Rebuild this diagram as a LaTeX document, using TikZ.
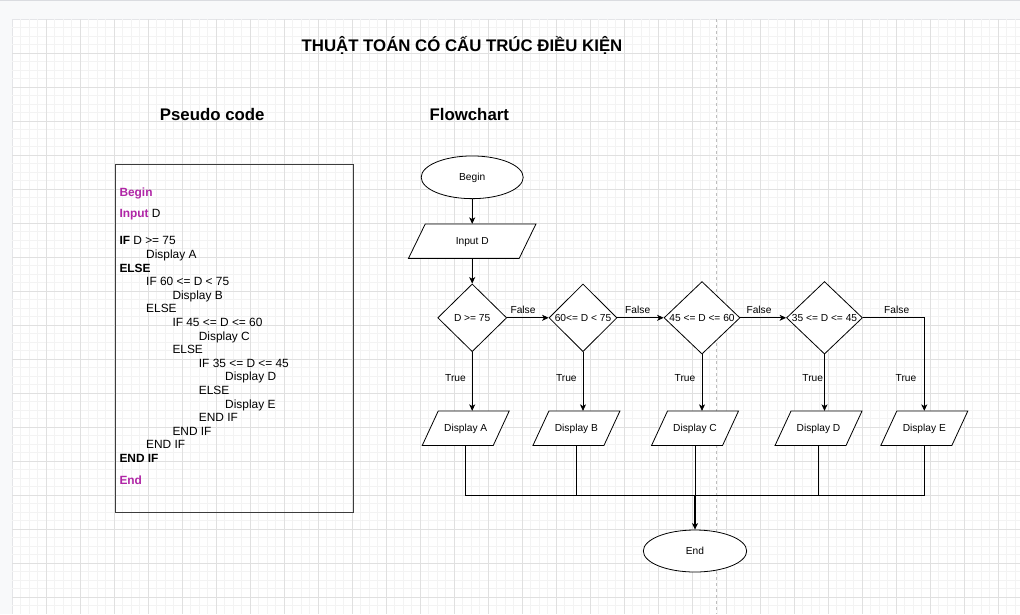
\documentclass[tikz,border=0pt]{standalone}
\usepackage{fontspec}
\setmainfont{Liberation Sans}
\usetikzlibrary{shapes.geometric,arrows.meta}
\definecolor{kw}{RGB}{176,38,166}
\definecolor{gmin}{RGB}{243,243,243}
\definecolor{gmaj}{RGB}{224,224,224}
\definecolor{outside}{RGB}{248,249,250}
\definecolor{pbreak}{RGB}{190,190,190}
\newcommand\paral[7]{% name, cx, cy, w, h, slant, text
  \filldraw[shapeline, fill=white]
    ({#2-#4/2+#6},{#3-#5/2}) -- ({#2+#4/2},{#3-#5/2}) --
    ({#2+#4/2-#6},{#3+#5/2}) -- ({#2-#4/2},{#3+#5/2}) -- cycle;
  \node[lbl, minimum width=#4, minimum height=#5] (#1) at (#2,#3) {#7};}
\newcommand\codeline[3]{\node[code] at (#1,#2) {#3};}
\begin{document}
\begin{tikzpicture}[x=1pt,y=-1pt,
  shapeline/.style={draw=black, line width=0.8pt},
  lbl/.style={font=\fontsize{10.2}{12}\selectfont, inner sep=0pt, text height=7.3pt, text depth=0pt},
  term/.style={ellipse, shapeline, fill=white, inner sep=0pt, lbl},
  dia/.style={diamond, shapeline, fill=white, inner sep=0pt, lbl, minimum height=67.7pt},
  line/.style={draw=black, line width=0.8pt},
  flow/.style={line, -{Stealth[length=6.5pt,width=6pt,inset=1.8pt]}},
  code/.style={anchor=west, inner sep=0pt, font=\fontsize{11.9}{13.6}\selectfont, text height=8.5pt, text depth=0pt},
  head/.style={font=\fontsize{16.8}{20}\selectfont\bfseries, inner sep=0pt, text height=12pt, text depth=0pt}]
\useasboundingbox (0,0) rectangle (1020,614);
% canvas
\fill[outside] (0,0) rectangle (1020,614);
\draw[color={rgb,255:red,218;green,220;blue,224}, line width=1.2pt] (0,0.6) -- (1020,0.6);
\fill[white] (12.3,19.3) rectangle (1020,614);
\draw[color={rgb,255:red,228;green,229;blue,232}, line width=0.8pt] (11.9,19.3) -- (11.9,614);
\draw[color={rgb,255:red,228;green,229;blue,232}, line width=0.8pt] (11.9,18.9) -- (1020,18.9);
\foreach \i in {1,...,118} {\draw[gmin, line width=0.8pt] ({12.3+8.5*\i},19.3) -- ({12.3+8.5*\i},614);}
\foreach \i in {1,...,69} {\draw[gmin, line width=0.8pt] (12.3,{19.3+8.5*\i}) -- (1020,{19.3+8.5*\i});}
\foreach \i in {1,...,29} {\draw[gmaj, line width=0.8pt] ({12.3+34*\i},19.3) -- ({12.3+34*\i},614);}
\foreach \i in {1,...,17} {\draw[gmaj, line width=0.8pt] (12.3,{19.3+34*\i}) -- (1020,{19.3+34*\i});}
\draw[pbreak, line width=0.8pt, dash pattern=on 3pt off 3pt] (716.8,19.3) -- (716.8,614);

% headings
\node[head] (title) at (462,45.7) {THUẬT TOÁN CÓ CẤU TRÚC ĐIỀU KIỆN};
\node[head] (hpc) at (212.2,114.3) {Pseudo code};
\node[head] (hfc) at (469.3,114.3) {Flowchart};

% pseudo code box
\draw[draw={rgb,255:red,60;green,60;blue,60}, line width=0.9pt] (115,164.7) rectangle (353.3,512.7);
\codeline{119.3}{192.7}{\bfseries\color{kw}Begin}
\codeline{119.3}{213.3}{{\bfseries\color{kw}Input} D}
\codeline{119.3}{240.7}{\textbf{IF} D >= 75}
\codeline{146}{254.3}{Display A}
\codeline{119.3}{267.9}{\textbf{ELSE}}
\codeline{146}{281.5}{IF 60 <= D < 75}
\codeline{172.3}{295.1}{Display B}
\codeline{146}{308.7}{ELSE}
\codeline{172.3}{322.3}{IF 45 <= D <= 60}
\codeline{198.7}{335.9}{Display C}
\codeline{172.3}{349.5}{ELSE}
\codeline{198.7}{363.1}{IF 35 <= D <= 45}
\codeline{225}{376.7}{Display D}
\codeline{198.7}{390.3}{ELSE}
\codeline{225}{403.9}{Display E}
\codeline{198.7}{417.5}{END IF}
\codeline{172.3}{431.1}{END IF}
\codeline{146}{444.7}{END IF}
\codeline{119.3}{458.3}{\textbf{END IF}}
\codeline{119.3}{480.7}{\bfseries\color{kw}End}

% flowchart
\node[term, minimum width=102pt, minimum height=42.7pt] (begin) at (472.2,177.3) {Begin};
\paral{input}{472.2}{241.2}{127.4}{34.3}{16.7}{Input D}
\node[dia, minimum width=69pt] (d1) at (472.2,317.8) {D >= 75};
\node[dia, minimum width=68pt] (d2) at (583,317.8) {60<= D < 75};
\node[dia, minimum width=76pt] (d3) at (702,317.8) {45 <= D <= 60};
\node[dia, minimum width=76pt] (d4) at (824.5,317.8) {35 <= D <= 45};
\paral{A}{465.7}{428.3}{87}{34.5}{16}{Display A}
\paral{B}{576.4}{428.3}{87}{34.5}{16}{Display B}
\paral{C}{695}{428.3}{87}{34.5}{16}{Display C}
\paral{D}{818.5}{428.3}{87}{34.5}{16}{Display D}
\paral{E}{924.3}{428.3}{87}{34.5}{16}{Display E}
\node[term, minimum width=103.4pt, minimum height=42pt] (end) at (695,551) {End};

\draw[flow] (begin) -- (input);
\draw[flow] (input.south) -- (d1.north);
\draw[flow] (d1) -- (d2);
\draw[flow] (d2) -- (d3);
\draw[flow] (d3) -- (d4);
\draw[flow] (d4.east) -| (E.north);
\draw[flow] (d1.south) -- (d1.south |- A.north);
\draw[flow] (d2.south) -- (d2.south |- B.north);
\draw[flow] (d3.south) -- (d3.south |- C.north);
\draw[flow] (d4.south) -- (d4.south |- D.north);

\node[lbl] (f1) at (523,310) {False};
\node[lbl] (f2) at (637.7,310) {False};
\node[lbl] (f3) at (759,310) {False};
\node[lbl] (f4) at (896.7,310) {False};
\node[lbl] (t1) at (455.5,377.7) {True};
\node[lbl] (t2) at (566.3,377.7) {True};
\node[lbl] (t3) at (685,377.7) {True};
\node[lbl] (t4) at (812.7,377.7) {True};
\node[lbl] (t5) at (906,377.7) {True};

\coordinate (m) at (695,495.7);
\foreach \X in {A,B,C,D,E} {\draw[line] (\X.south) |- (m);}
\draw[flow, line width=1.4pt] (m) -- (end.north);
\end{tikzpicture}
\end{document}
